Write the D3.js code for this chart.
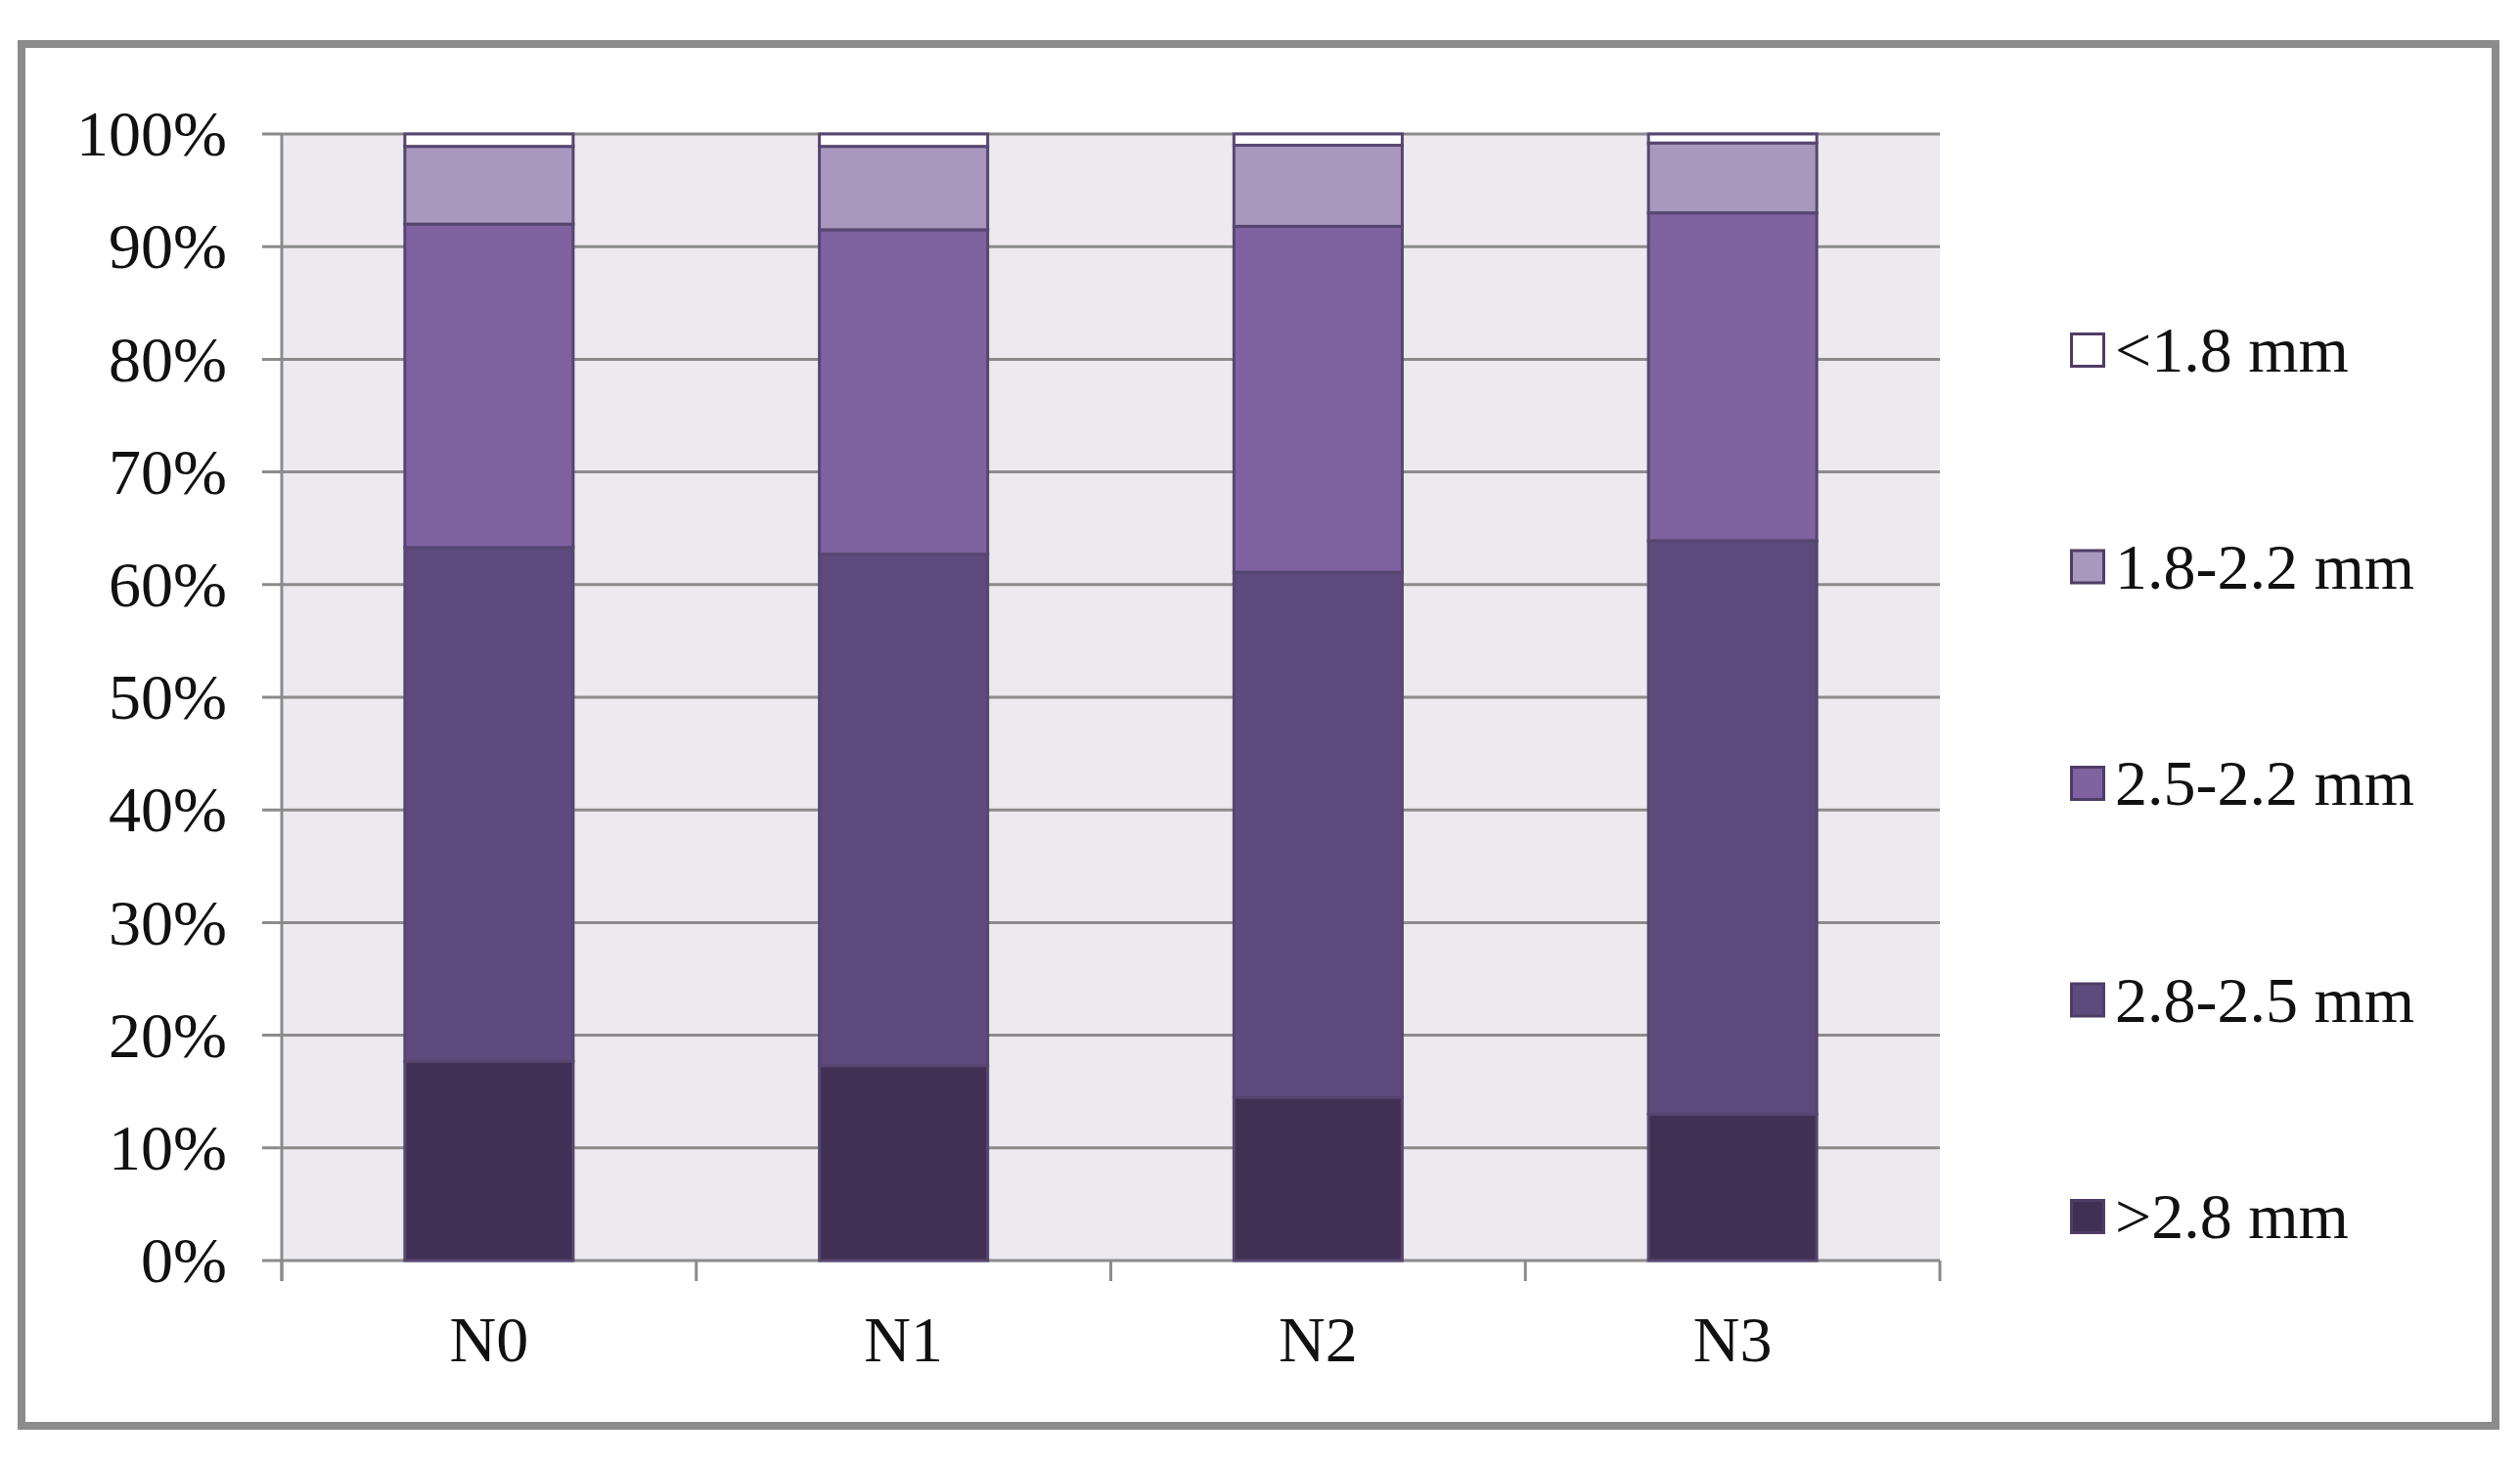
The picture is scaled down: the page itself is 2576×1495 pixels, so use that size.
<!DOCTYPE html>
<html>
<head>
<meta charset="utf-8">
<script src="https://cdn.jsdelivr.net/npm/d3@7"></script>
<style>
  body { margin: 0; background: #fff; }
  svg { display: block; font-family: "Liberation Serif", "Times New Roman", serif; }
</style>
</head>
<body>
<svg width="2576" height="1495"></svg>
<script>
// Data: share of each size class per treatment (%)
const categories = ["N0", "N1", "N2", "N3"];
const seriesNames = [">2.8 mm", "2.8-2.5 mm", "2.5-2.2 mm", "1.8-2.2 mm", "<1.8 mm"];
const over28 = [17.7, 17.3, 14.5, 13.0];
const from28to25 = [45.6, 45.4, 46.6, 50.9];
const from25to22 = [28.7, 28.8, 30.7, 29.1];
const from18to22 = [6.9, 7.4, 7.2, 6.2];
const under18 = [1.1, 1.1, 1.0, 0.8];
const yTicks = [0, 10, 20, 30, 40, 50, 60, 70, 80, 90, 100];

const colors = ["#403053", "#5e4a7c", "#7f62a0", "#a898bd", "#ffffff"];

const svg = d3.select("svg");

// outer frame
svg.append("rect")
    .attr("x", 22).attr("y", 45)
    .attr("width", 2529).attr("height", 1413)
    .attr("fill", "#fff")
    .attr("stroke", "#8c8c8c")
    .attr("stroke-width", 8);

const margin = { top: 137, left: 288 };
const width = 1695;
const height = 1152;

const chart = svg.append("g")
    .attr("transform", `translate(${margin.left}, ${margin.top})`);

const table = categories.map((c, i) => ({
    cat: c,
    [seriesNames[0]]: over28[i],
    [seriesNames[1]]: from28to25[i],
    [seriesNames[2]]: from25to22[i],
    [seriesNames[3]]: from18to22[i],
    [seriesNames[4]]: under18[i]
}));

const x = d3.scaleBand()
    .domain(categories)
    .range([0, width])
    .paddingInner(0.594)
    .paddingOuter(0.297);

const y = d3.scaleLinear()
    .domain([0, 100])
    .range([height, 0]);

const color = d3.scaleOrdinal().domain(seriesNames).range(colors);

// plot background
chart.append("rect")
    .attr("width", width).attr("height", height)
    .attr("fill", "#ece9ef");

// gridlines with outward ticks
chart.append("g")
    .selectAll("line")
    .data(yTicks)
    .enter().append("line")
    .attr("x1", -20).attr("x2", width)
    .attr("y1", d => y(d)).attr("y2", d => y(d))
    .attr("stroke", "#8b8b8b")
    .attr("stroke-width", 3);

// y axis labels
const yAxis = chart.append("g")
    .call(d3.axisLeft(y).tickValues(yTicks).tickSize(0).tickPadding(56).tickFormat(d => d + "%"));
yAxis.select(".domain").remove();
yAxis.selectAll("text")
    .attr("font-size", 66)
    .attr("font-family", "Liberation Serif, Times New Roman, serif")
    .attr("fill", "#111")
    .attr("dy", "0.33em");

// y axis line
chart.append("line")
    .attr("x1", 0).attr("x2", 0)
    .attr("y1", 0).attr("y2", height + 21)
    .attr("stroke", "#8b8b8b")
    .attr("stroke-width", 3);

// x axis ticks at category boundaries
const step = x.step();
chart.append("g")
    .selectAll("line")
    .data(d3.range(categories.length + 1))
    .enter().append("line")
    .attr("x1", d => d * step).attr("x2", d => d * step)
    .attr("y1", height).attr("y2", height + 21)
    .attr("stroke", "#8b8b8b")
    .attr("stroke-width", 3);

// x axis labels
const xAxis = chart.append("g")
    .attr("transform", `translate(0, ${height})`)
    .call(d3.axisBottom(x).tickSize(0).tickPadding(56));
xAxis.select(".domain").remove();
xAxis.selectAll("text")
    .attr("font-size", 66)
    .attr("font-family", "Liberation Serif, Times New Roman, serif")
    .attr("fill", "#111");

// stacked bars
const stacked = d3.stack().keys(seriesNames)(table);

chart.append("g")
    .selectAll("g")
    .data(stacked)
    .enter().append("g")
    .attr("fill", d => color(d.key))
    .selectAll("rect")
    .data(d => d)
    .enter().append("rect")
    .attr("x", d => x(d.data.cat))
    .attr("y", d => y(d[1]))
    .attr("width", x.bandwidth())
    .attr("height", d => y(d[0]) - y(d[1]))
    .attr("stroke", "#574670")
    .attr("stroke-width", 3);

// legend (top to bottom: smallest class first)
const legendOrder = seriesNames.slice().reverse();
const legend = svg.append("g")
    .attr("transform", "translate(2116, 358)");

const item = legend.selectAll("g")
    .data(legendOrder)
    .enter().append("g")
    .attr("transform", (d, i) => `translate(0, ${i * 221.5})`);

item.append("rect")
    .attr("x", 1.5).attr("y", -16.5)
    .attr("width", 33).attr("height", 33)
    .attr("fill", d => color(d))
    .attr("stroke", "#4e3d66")
    .attr("stroke-width", 3);

item.append("text")
    .attr("x", 46)
    .attr("y", 22)
    .attr("font-size", 66)
    .attr("fill", "#111")
    .text(d => d);
</script>
</body>
</html>
